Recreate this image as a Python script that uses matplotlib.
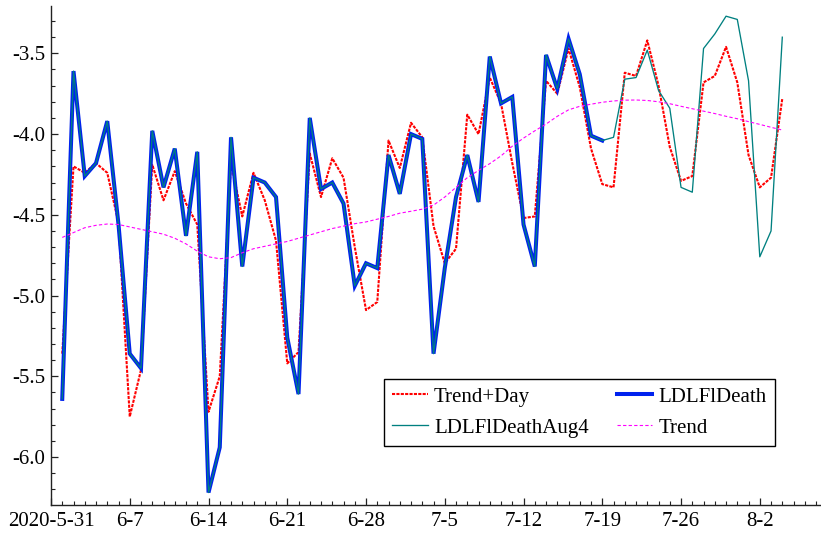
import matplotlib
matplotlib.use("Agg")
import matplotlib.pyplot as plt
import matplotlib.dates as mdates
from matplotlib.ticker import MultipleLocator
import numpy as np
import pandas as pd

# ---- data ----
start_date = "2020-06-01"
n_days = 65

trend_day = [-5.36, -4.20, -4.24, -4.18, -4.24, -4.55, -5.75, -5.46, -4.19, -4.41,
             -4.23, -4.43, -4.56, -5.72, -5.50, -4.18, -4.51, -4.24, -4.41, -4.66,
             -5.42, -5.35, -4.12, -4.39, -4.15, -4.27, -4.70, -5.09, -5.04, -4.04,
             -4.21, -3.93, -4.02, -4.57, -4.80, -4.71, -3.88, -4.00, -3.65, -3.81,
             -4.18, -4.52, -4.51, -3.67, -3.75, -3.47, -3.71, -4.09, -4.31, -4.33,
             -3.62, -3.64, -3.42, -3.70, -4.08, -4.29, -4.26, -3.68, -3.64, -3.46,
             -3.68, -4.13, -4.33, -4.27, -3.78]

ldlfl_death = [-5.64, -3.61, -4.26, -4.18, -3.92, -4.56, -5.36, -5.45, -3.98, -4.33,
               -4.09, -4.63, -4.11, -6.22, -5.94, -4.02, -4.82, -4.27, -4.30, -4.39,
               -5.26, -5.61, -3.90, -4.34, -4.30, -4.43, -4.94, -4.80, -4.83, -4.13,
               -4.37, -4.00, -4.03, -5.36, -4.83, -4.39, -4.13, -4.42, -3.52, -3.81,
               -3.77, -4.56, -4.82, -3.51, -3.72, -3.41, -3.63, -4.01, -4.04]

ldlfl_aug4_extra = [-4.02, -3.66, -3.65, -3.48, -3.73, -3.84, -4.33, -4.36, -3.47, -3.38,
                    -3.27, -3.29, -3.67, -4.76, -4.60, -3.40]
ldlfl_aug4 = ldlfl_death + ldlfl_aug4_extra

trend = [-4.64, -4.61, -4.58, -4.565, -4.557, -4.56, -4.575, -4.59, -4.605, -4.62,
         -4.645, -4.68, -4.725, -4.76, -4.772, -4.765, -4.735, -4.71, -4.695, -4.68,
         -4.665, -4.645, -4.625, -4.605, -4.585, -4.57, -4.555, -4.544, -4.527, -4.51,
         -4.49, -4.478, -4.465, -4.44, -4.39, -4.33, -4.27, -4.225, -4.183, -4.135,
         -4.075, -4.025, -3.98, -3.938, -3.89, -3.85, -3.828, -3.815, -3.803, -3.795,
         -3.79, -3.789, -3.792, -3.80, -3.812, -3.828, -3.843, -3.858, -3.873, -3.89,
         -3.905, -3.923, -3.94, -3.958, -3.975]

xtick_labels = ["2020-5-31", "6-7", "6-14", "6-21", "6-28", "7-5", "7-12", "7-19", "7-26", "8-2"]
ytick_values = [-3.5, -4.0, -4.5, -5.0, -5.5, -6.0]
ytick_labels = ["-3.5", "-4.0", "-4.5", "-5.0", "-5.5", "-6.0"]

# ---- plot ----
plt.rcParams["font.family"] = ["Liberation Serif", "DejaVu Serif"]
plt.rcParams["axes.unicode_minus"] = False

dates = pd.date_range(start_date, periods=n_days)
tick_dates = pd.date_range("2020-05-31", periods=len(xtick_labels), freq="7D")

fig = plt.figure(figsize=(8.21, 5.33), dpi=100)
W, H = 821, 533
ax = fig.add_axes([51 / W, (H - 505) / H, (W - 51) / W, (505 - 5.7) / H])

l_red, = ax.plot(dates, trend_day, color="#ff0000", lw=1.5, dashes=(1.5, 0.6), label="Trend+Day")
l_blue, = ax.plot(dates[:len(ldlfl_death)], ldlfl_death, color="#0022ee", lw=2.9,
                  solid_joinstyle="miter", label="LDLFlDeath")
l_teal, = ax.plot(dates, ldlfl_aug4, color="#008080", lw=0.95, label="LDLFlDeathAug4")
l_mag, = ax.plot(dates, trend, color="#ff00ff", lw=0.8, dashes=(3, 2), label="Trend")

x0 = pd.Timestamp("2020-05-31")
ax.set_xlim(x0, x0 + pd.Timedelta(days=68.44))
ax.set_ylim(-6.297, -3.205)

ax.set_xticks(tick_dates)
ax.set_xticklabels(xtick_labels)
ax.xaxis.set_minor_locator(mdates.DayLocator())
ax.set_yticks(ytick_values)
ax.set_yticklabels(ytick_labels)
ax.yaxis.set_minor_locator(MultipleLocator(0.1))

for s in ["top", "right"]:
    ax.spines[s].set_visible(False)
for s in ["left", "bottom"]:
    ax.spines[s].set_linewidth(1.0)
    ax.spines[s].set_color("#222222")

ax.tick_params(axis="both", which="major", direction="in", length=5, width=0.9,
               labelsize=15, colors="#222222", labelcolor="black")
ax.tick_params(axis="both", which="minor", direction="in", length=3, width=0.8, colors="#222222")
ax.tick_params(axis="x", which="major", pad=5)
ax.tick_params(axis="y", which="major", pad=4)

leg = ax.legend(handles=[l_red, l_teal, l_blue, l_mag], ncol=2,
                loc="lower left", bbox_to_anchor=(0.4325, 0.118),
                fontsize=15, frameon=True, fancybox=False, framealpha=1,
                edgecolor="black", handlelength=1.7, handletextpad=0.3,
                columnspacing=1.35, borderpad=0.4, labelspacing=0.55, borderaxespad=0)
leg.get_frame().set_linewidth(1.0)

fig.savefig("out.png", dpi=100)
